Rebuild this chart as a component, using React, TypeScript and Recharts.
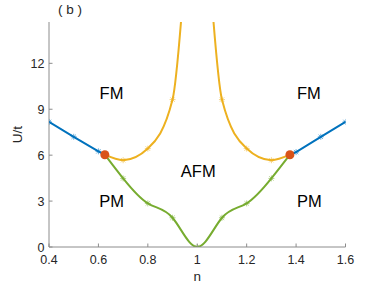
import React from "react";
import {
  ComposedChart,
  Line,
  Scatter,
  XAxis,
  YAxis,
  ReferenceDot,
  Label,
} from "recharts";

// n values and U/t; mark=false hides the asterisk
const fmLeft = [
  { n: 0.4, u: 8.17 },
  { n: 0.5, u: 7.2 },
  { n: 0.6, u: 6.25 },
  { n: 0.626, u: 6.03, mark: false },
];
const fmRight = [
  { n: 1.375, u: 6.03, mark: false },
  { n: 1.4, u: 6.2 },
  { n: 1.5, u: 7.2 },
  { n: 1.6, u: 8.17 },
];
const afmLeft = [
  { n: 0.626, u: 6.03, mark: false },
  { n: 0.7, u: 5.67 },
  { n: 0.8, u: 6.43 },
  { n: 0.9, u: 9.63 },
  { n: 0.95, u: 18, mark: false },
];
const afmRight = [
  { n: 1.05, u: 18, mark: false },
  { n: 1.1, u: 9.63 },
  { n: 1.2, u: 6.43 },
  { n: 1.3, u: 5.67 },
  { n: 1.375, u: 6.03, mark: false },
];
const pmBoundary = [
  { n: 0.626, u: 6.03, mark: false },
  { n: 0.7, u: 4.48 },
  { n: 0.8, u: 2.85 },
  { n: 0.9, u: 1.91 },
  { n: 1.0, u: 0 },
  { n: 1.1, u: 1.91 },
  { n: 1.2, u: 2.85 },
  { n: 1.3, u: 4.48 },
  { n: 1.375, u: 6.03, mark: false },
];
const triplePoints = [
  { n: 0.626, u: 6.03 },
  { n: 1.375, u: 6.03 },
];
const regions = [
  { n: 0.653, u: 10.05, text: "FM" },
  { n: 1.452, u: 10.05, text: "FM" },
  { n: 1.004, u: 4.96, text: "AFM" },
  { n: 0.653, u: 3.0, text: "PM" },
  { n: 1.454, u: 3.0, text: "PM" },
];
const xTicks = [0.4, 0.6, 0.8, 1, 1.2, 1.4, 1.6];
const yTicks = [0, 3, 6, 9, 12];

const BLUE = "#0072BD";
const YELLOW = "#EDB120";
const GREEN = "#77AC30";
const RED = "#D95319";
const AXIS = "#8c8c8c";
const TEXT = "#262626";
const FONT = "'Liberation Sans', Arial, sans-serif";
const TICK = 3.5;

const asterisk = (color: string) => (p: any) => {
  const { cx, cy, payload, index } = p;
  if (payload.mark === false || cx == null || cy == null) return <g key={index} />;
  const s = 3;
  const d = 2.2;
  return (
    <g key={index} stroke={color} strokeOpacity={0.55} strokeWidth={1}>
      <line x1={cx - s} y1={cy} x2={cx + s} y2={cy} />
      <line x1={cx} y1={cy - s} x2={cx} y2={cy + s} />
      <line x1={cx - d} y1={cy - d} x2={cx + d} y2={cy + d} />
      <line x1={cx - d} y1={cy + d} x2={cx + d} y2={cy - d} />
    </g>
  );
};

const BottomTick = (p: any) => (
  <g>
    <line x1={p.x} y1={p.y} x2={p.x} y2={p.y - TICK} stroke={AXIS} />
    <text x={p.x} y={p.y + 17} textAnchor="middle" fontSize={12.5} fill={TEXT} fontFamily={FONT}>
      {p.payload.value}
    </text>
  </g>
);
const TopTick = (p: any) => (
  <line x1={p.x} y1={p.y} x2={p.x} y2={p.y + TICK} stroke={AXIS} />
);
const LeftTick = (p: any) => (
  <g>
    <line x1={p.x} y1={p.y} x2={p.x + TICK} y2={p.y} stroke={AXIS} />
    <text x={p.x - 4.5} y={p.y + 4.5} textAnchor="end" fontSize={12.5} fill={TEXT} fontFamily={FONT}>
      {p.payload.value}
    </text>
  </g>
);
const RightTick = (p: any) => (
  <line x1={p.x} y1={p.y} x2={p.x - TICK} y2={p.y} stroke={AXIS} />
);

export default function App() {
  const line = (data: any[], color: string, type: "linear" | "monotone" | "natural") => (
    <Line
      data={data}
      dataKey="u"
      type={type}
      stroke={color}
      strokeWidth={2}
      dot={asterisk(color)}
      activeDot={false}
      isAnimationActive={false}
    />
  );
  return (
    <div style={{ position: "absolute", left: 0, top: 0, width: 382, height: 286, background: "#fff" }}>
      <div
        style={{
          position: "absolute",
          left: 58,
          top: 2,
          fontFamily: FONT,
          fontSize: 13.5,
          color: TEXT,
          whiteSpace: "pre",
        }}
      >
        ( b )
      </div>
      <ComposedChart width={382} height={286} margin={{ top: 22, right: 36.5, bottom: 0, left: 0 }}>
        <XAxis
          dataKey="n"
          type="number"
          domain={[0.4, 1.6]}
          ticks={xTicks}
          height={39}
          stroke={AXIS}
          tickLine={false}
          tickSize={0}
          tickMargin={0}
          tick={<BottomTick />}
          interval={0}
          allowDataOverflow
        >
          <Label value="n" position="insideBottom" offset={5} fontSize={13.5} fill={TEXT} fontFamily={FONT} />
        </XAxis>
        <XAxis
          xAxisId="top"
          orientation="top"
          type="number"
          domain={[0.4, 1.6]}
          ticks={xTicks}
          height={0}
          stroke={AXIS}
          tickLine={false}
          tickSize={0}
          tickMargin={0}
          tick={<TopTick />}
          interval={0}
          allowDataOverflow
        />
        <YAxis
          type="number"
          domain={[0, 14.7]}
          ticks={yTicks}
          width={49}
          stroke={AXIS}
          tickLine={false}
          tickSize={0}
          tickMargin={0}
          tick={<LeftTick />}
          interval={0}
          allowDataOverflow
        >
          <Label
            value="U/t"
            angle={-90}
            position="insideLeft"
            offset={17}
            style={{ textAnchor: "middle" }}
            fontSize={13.5}
            fill={TEXT}
            fontFamily={FONT}
          />
        </YAxis>
        <YAxis
          yAxisId="right"
          orientation="right"
          type="number"
          domain={[0, 14.7]}
          ticks={yTicks}
          width={0}
          stroke={AXIS}
          tickLine={false}
          tickSize={0}
          tickMargin={0}
          tick={<RightTick />}
          interval={0}
          allowDataOverflow
        />
        {line(fmLeft, BLUE, "linear")}
        {line(fmRight, BLUE, "linear")}
        {line(afmLeft, YELLOW, "monotone")}
        {line(afmRight, YELLOW, "monotone")}
        {line(pmBoundary, GREEN, "natural")}
        <Scatter
          data={triplePoints}
          dataKey="u"
          fill={RED}
          isAnimationActive={false}
          shape={(p: any) => <circle cx={p.cx} cy={p.cy} r={4.5} fill={RED} />}
        />
        {regions.map((r, i) => (
          <ReferenceDot
            key={i}
            x={r.n}
            y={r.u}
            r={0}
            fill="none"
            stroke="none"
            label={{
              value: r.text,
              position: "center",
              fontSize: 16.5,
              fill: "#000",
              fontFamily: FONT,
            }}
          />
        ))}
      </ComposedChart>
    </div>
  );
}
